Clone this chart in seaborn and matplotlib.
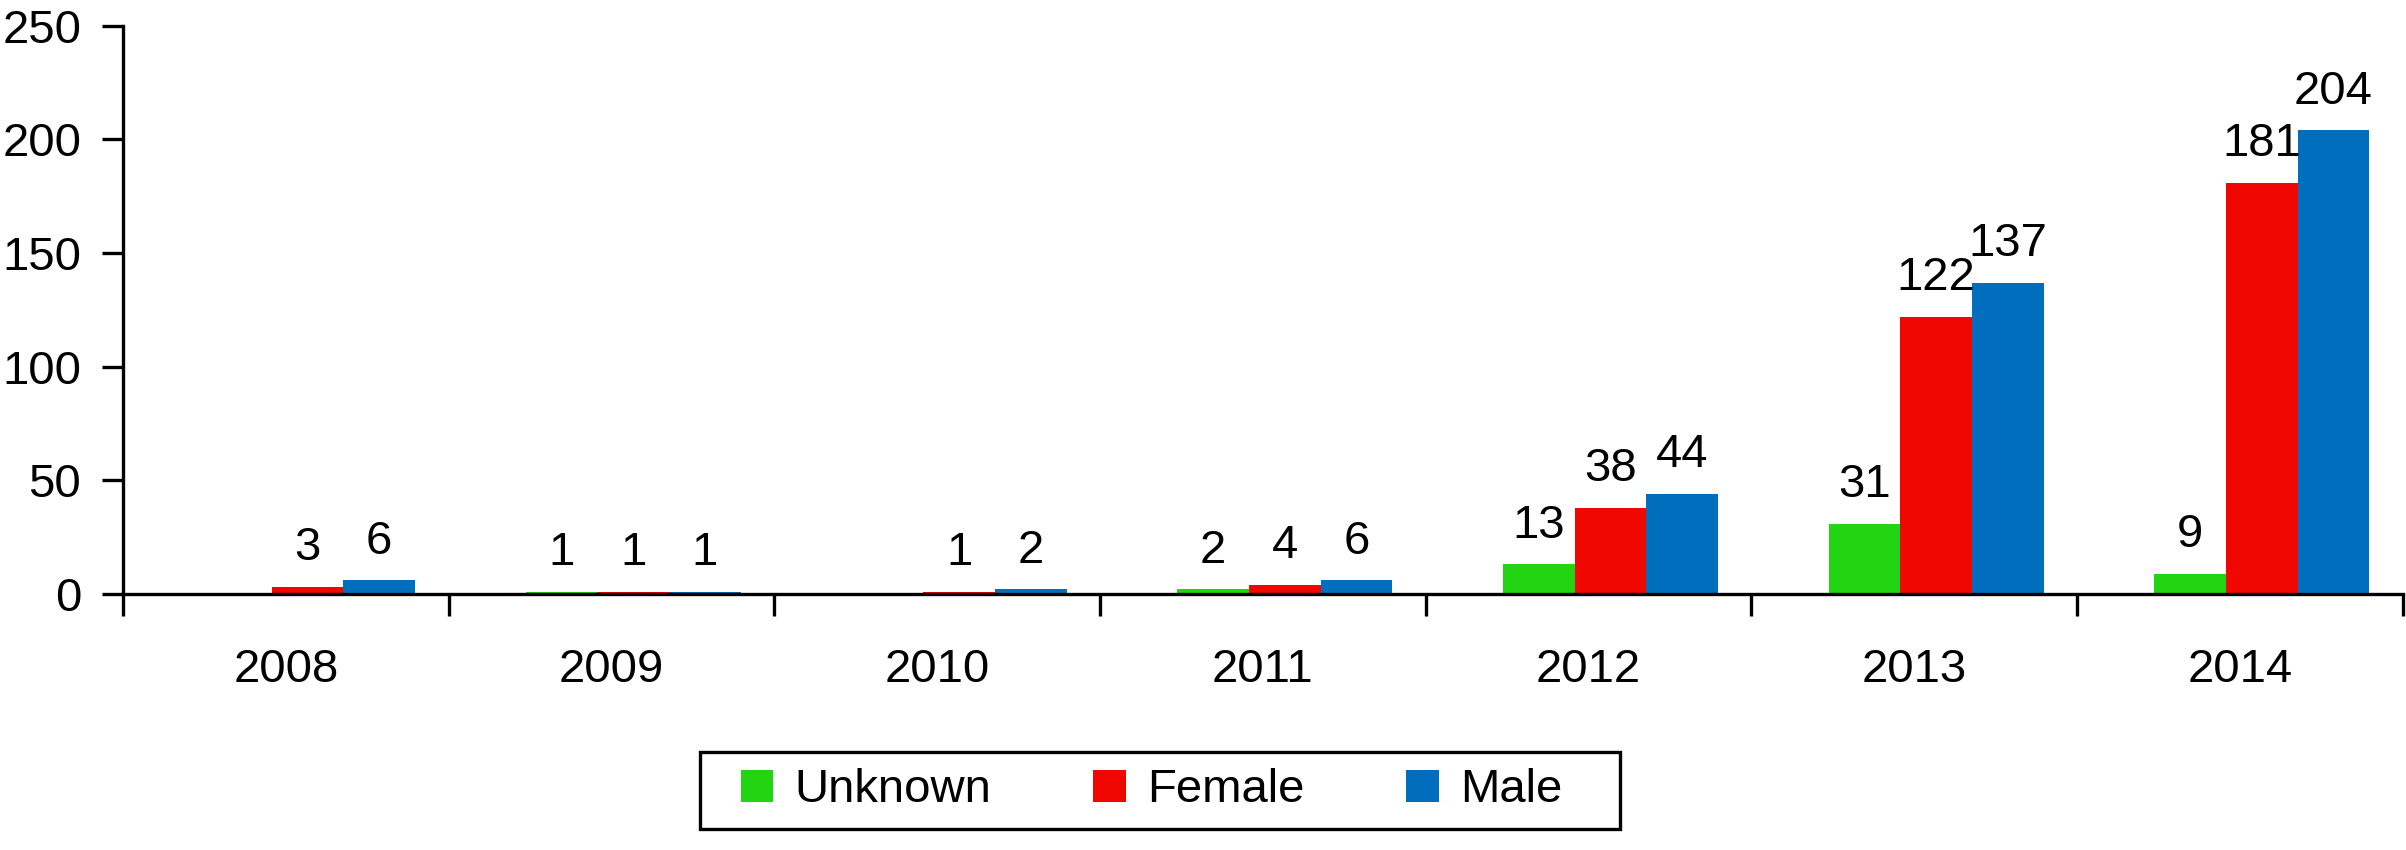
import numpy as np
import pandas as pd
import matplotlib
matplotlib.use('Agg')
import matplotlib.pyplot as plt
from matplotlib.patches import Rectangle
import seaborn as sns

# Step 1: chart data
years = ['2008', '2009', '2010', '2011', '2012', '2013', '2014']
unknown = [0, 1, 0, 2, 13, 31, 9]
female = [3, 1, 1, 4, 38, 122, 181]
male = [6, 1, 2, 6, 44, 137, 204]
groups = ['Unknown', 'Female', 'Male']
colors = ['#22D412', '#EF0700', '#006EBD']

# Step 2: long-form table for seaborn
df = pd.DataFrame({
    'year': years * 3,
    'group': [g for g in groups for _ in years],
    'count': unknown + female + male,
})

sns.set_style('white')
plt.rcParams['font.family'] = ['Liberation Sans', 'DejaVu Sans']
plt.rcParams['text.color'] = 'black'
fsize = 34

fig = plt.figure(figsize=(24.06, 8.5), dpi=100)
ax = fig.add_axes([0.0511, 0.3012, 0.9476, 0.6686])

sns.barplot(data=df, x='year', y='count', hue='group', hue_order=groups,
            order=years, palette=colors, width=0.66, gap=0, saturation=1,
            errorbar=None, linewidth=0, ax=ax, legend=True)

# bars sit a bit right of the category centre in the original
shift = 0.067
for cont in ax.containers:
    for p in cont.patches:
        p.set_x(p.get_x() + shift)

# Step 3: value labels (skip empty bars)
for cont in ax.containers:
    labels = ['' if v == 0 else f'{int(v)}' for v in cont.datavalues]
    ax.bar_label(cont, labels=labels, padding=12, fontsize=fsize, color='black')

# Step 4: axes styling
ax.set_ylim(0, 250)
ax.set_xlim(-0.5, len(years) - 0.5)
ax.set_yticks(np.arange(0, 251, 50))
ax.set_xlabel('')
ax.set_ylabel('')
sns.despine(ax=ax)
for side in ['left', 'bottom']:
    ax.spines[side].set_linewidth(2.4)
    ax.spines[side].set_color('black')

ax.tick_params(axis='y', direction='out', length=15, width=2.4, labelsize=fsize,
               pad=15, color='black', labelcolor='black', left=True)
ax.tick_params(axis='x', which='major', length=0, labelsize=fsize, pad=39, labelcolor='black')
ax.set_xticks(np.arange(-0.5, len(years)), minor=True)
ax.tick_params(axis='x', which='minor', direction='out', length=16, width=2.4,
               color='black', bottom=True)

# Step 5: legend below the chart, with a separate box around it
handles, lbls = ax.get_legend_handles_labels()
ax.legend_.remove()
leg = fig.legend(handles, lbls, loc='center', mode='expand',
                 bbox_to_anchor=(741 / 2406, 0.070 - 0.0453, 821 / 2406, 0.0906),
                 ncol=3, fontsize=fsize, frameon=False,
                 handlelength=0.68, handleheight=0.68, handletextpad=0.45,
                 columnspacing=2.5, borderpad=0, borderaxespad=0)
fig.add_artist(Rectangle((700 / 2406, 1 - 829 / 850), 920 / 2406, 77 / 850,
                         transform=fig.transFigure, fill=False,
                         edgecolor='black', linewidth=2.4))

fig.savefig('out.png', dpi=100)
